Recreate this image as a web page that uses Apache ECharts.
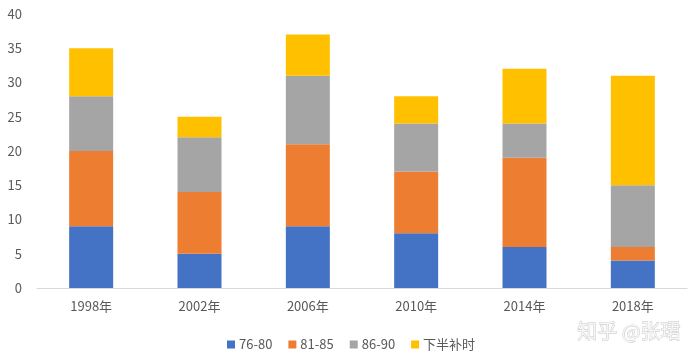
<!DOCTYPE html>
<html><head><meta charset="utf-8">
<script src="https://cdn.jsdelivr.net/npm/echarts@6/dist/echarts.min.js"></script>
<style>html,body{margin:0;padding:0;background:#fff}#c{width:695px;height:362px}</style>
</head><body><div id="c"></div>
<script>
const categories = ['1998年','2002年','2006年','2010年','2014年','2018年'];
const s7680 = [9,5,9,8,6,4];
const s8185 = [11,9,12,9,13,2];
const s8690 = [8,8,10,7,5,9];
const sXia = [7,3,6,4,8,16];
const seriesNames = ['76-80','81-85','86-90','下半补时'];
const colors = ['#4472C4','#ED7D31','#A5A5A5','#FFC000'];
const font = '"Noto Sans CJK SC", "Microsoft YaHei", sans-serif';
const chart = echarts.init(document.getElementById('c'));
const data = [s7680,s8185,s8690,sXia];
chart.setOption({
  animation:false,
  color:colors,
  textStyle:{fontFamily:font},
  grid:{left:37,right:8,top:14,bottom:74},
  legend:{bottom:6,left:222,itemWidth:8,itemHeight:8,itemGap:16,icon:'rect',
    textStyle:{color:'#595959',fontSize:13,fontFamily:font,padding:[0,0,0,-1]}},
  xAxis:{type:'category',data:categories,axisTick:{show:false},
    axisLine:{lineStyle:{color:'#D9D9D9'}},
    axisLabel:{color:'#595959',fontSize:13,margin:12,fontFamily:font}},
  yAxis:{type:'value',min:0,max:40,interval:5,splitLine:{show:false},
    axisLabel:{color:'#595959',fontSize:13,margin:15,fontFamily:font}},
  graphic:[{type:'text',right:14,bottom:20,style:{text:'知乎 @张珺',fill:'#f6f6f6',stroke:'#c4c4c4',lineWidth:0.8,fontSize:20,fontFamily:font}}],
  series:data.map((d,i)=>({name:seriesNames[i],type:'bar',stack:'a',data:d,barWidth:44}))
});
</script></body></html>
